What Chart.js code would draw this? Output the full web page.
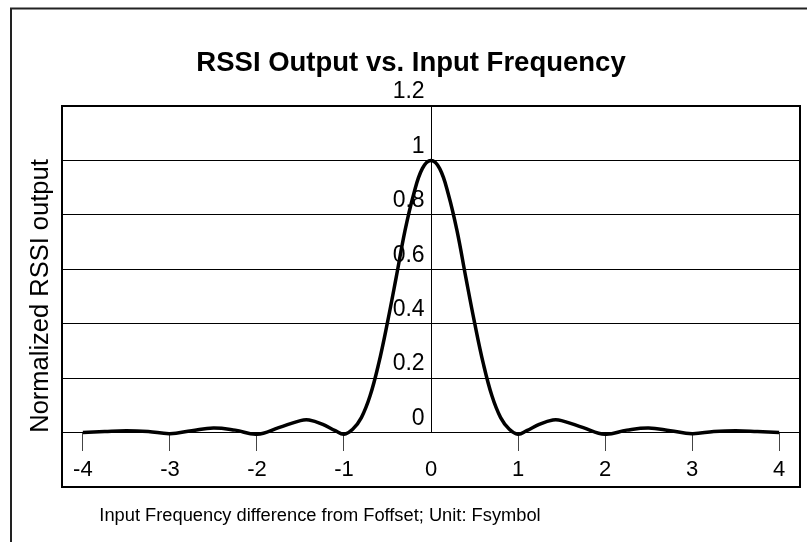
<!DOCTYPE html>
<html lang="en">
<head>
<meta charset="UTF-8">
<title>RSSI Output vs. Input Frequency</title>
<script src="https://cdn.jsdelivr.net/npm/chart.js"></script>
<style>
  * { margin: 0; padding: 0; }
  body { background: #fff; width: 807px; height: 542px; overflow: hidden; }
  canvas { display: block; }
</style>
</head>
<body>
<canvas id="rssiChart" width="807" height="542"></canvas>
<script>
  // frequency offset (unit: Fsymbol) and normalized RSSI
  const freq = [-4, -3.75, -3.5, -3.25, -3, -2.75, -2.5, -2.25, -2, -1.75, -1.5, -1.4, -1.25, -1.1, -1,
    -0.9, -0.8, -0.7, -0.6, -0.5, -0.4, -0.3, -0.2, -0.1, 0,
    0.1, 0.2, 0.3, 0.4, 0.5, 0.6, 0.7, 0.8, 0.9,
    1, 1.1, 1.25, 1.4, 1.5, 1.75, 2, 2.25, 2.5, 2.75, 3, 3.25, 3.5, 3.75, 4];
  const rssi = [0.000, 0.004, 0.007, 0.004, -0.004, 0.007, 0.017, 0.009, -0.006, 0.018, 0.044, 0.046, 0.031, 0.007, -0.006,
    0.012, 0.055, 0.135, 0.255, 0.405, 0.57, 0.74, 0.875, 0.97, 1.0,
    0.97, 0.875, 0.74, 0.57, 0.405, 0.255, 0.135, 0.055, 0.012,
    -0.006, 0.007, 0.031, 0.046, 0.044, 0.018, -0.006, 0.009, 0.017, 0.007, -0.004, 0.004, 0.007, 0.004, 0.000];

  const xTicks = [-4, -3, -2, -1, 0, 1, 2, 3, 4];
  const yTicks = [0, 0.2, 0.4, 0.6, 0.8, 1, 1.2];
  const yTickLabels = ['0', '0.2', '0.4', '0.6', '0.8', '1', '1.2'];

  const titleText = 'RSSI Output vs. Input Frequency';
  const xTitle = 'Input Frequency difference from Foffset; Unit: Fsymbol';
  const yTitle = 'Normalized RSSI output';

  const FONT = "'Liberation Sans', Arial, sans-serif";

  // frame, plot box, centre line and the three titles
  const framePlugin = {
    id: 'frame',
    beforeDraw(chart) {
      const ctx = chart.ctx;
      ctx.save();
      ctx.fillStyle = '#fff';
      ctx.fillRect(0, 0, chart.width, chart.height);
      ctx.strokeStyle = '#222';
      ctx.lineWidth = 2;
      ctx.strokeRect(11, 8.5, 900, 900);
      ctx.restore();
    },
    beforeDatasetsDraw(chart) {
      const ctx = chart.ctx;
      const a = chart.chartArea;
      const x0 = Math.round(chart.scales.x.getPixelForValue(0)) + 0.5;
      const y0 = chart.scales.y.getPixelForValue(0);
      ctx.save();
      ctx.strokeStyle = '#000';
      ctx.lineWidth = 1;
      ctx.beginPath();
      ctx.moveTo(x0, a.top);
      ctx.lineTo(x0, y0);
      ctx.stroke();
      ctx.restore();
    },
    afterDraw(chart) {
      const ctx = chart.ctx;
      const a = chart.chartArea;
      ctx.save();
      ctx.strokeStyle = '#000';
      ctx.lineWidth = 2;
      ctx.strokeRect(a.left, a.top, a.right - a.left, a.bottom - a.top);
      ctx.fillStyle = '#000';
      ctx.textAlign = 'center';
      ctx.textBaseline = 'middle';
      ctx.font = 'bold 27.5px ' + FONT;
      ctx.fillText(titleText, 411, 63);
      ctx.font = '18.3px ' + FONT;
      ctx.fillText(xTitle, 320, 516);
      ctx.translate(41, 296);
      ctx.rotate(-Math.PI / 2);
      ctx.font = '25.5px ' + FONT;
      ctx.fillText(yTitle, 0, 0);
      ctx.restore();
    }
  };

  const data = {
    datasets: [{
      data: freq.map((f, i) => ({ x: f, y: rssi[i] })),
      borderColor: '#000',
      borderWidth: 3.5,
      pointRadius: 0,
      tension: 0.4,
      fill: false
    }]
  };

  const config = {
    type: 'line',
    data,
    options: {
      responsive: false,
      animation: false,
      layout: { padding: { left: 62, right: 7, top: 106, bottom: 55 } },
      plugins: {
        legend: { display: false },
        tooltip: { enabled: false },
        title: { display: false }
      },
      scales: {
        x: {
          type: 'linear',
          position: { y: 0 },
          min: -4.24,
          max: 4.24,
          afterBuildTicks: axis => { axis.ticks = xTicks.map(v => ({ value: v })); },
          grid: {
            drawOnChartArea: false,
            drawTicks: true,
            tickLength: 18,
            tickWidth: 1,
            // no tick mark under the centre line
            tickColor: (c) => (c.tick && c.tick.value === 0 ? 'rgba(0,0,0,0)' : '#444')
          },
          border: { display: false },
          ticks: { color: '#000', font: { family: FONT, size: 22 }, padding: 6, maxRotation: 0, autoSkip: false }
        },
        y: {
          type: 'linear',
          position: { x: 0 },
          min: -0.2,
          max: 1.2,
          afterBuildTicks: axis => { axis.ticks = yTicks.map(v => ({ value: v })); },
          grid: { color: '#000', lineWidth: 1, drawTicks: false },
          border: { display: false },
          ticks: {
            color: '#000',
            font: { family: FONT, size: 23 },
            labelOffset: -14,
            // trailing space keeps the label clear of the centre line
            callback: (v) => yTickLabels[yTicks.indexOf(v)] + ' '
          }
        }
      }
    },
    plugins: [framePlugin]
  };

  new Chart(document.getElementById('rssiChart'), config);
</script>
</body>
</html>
